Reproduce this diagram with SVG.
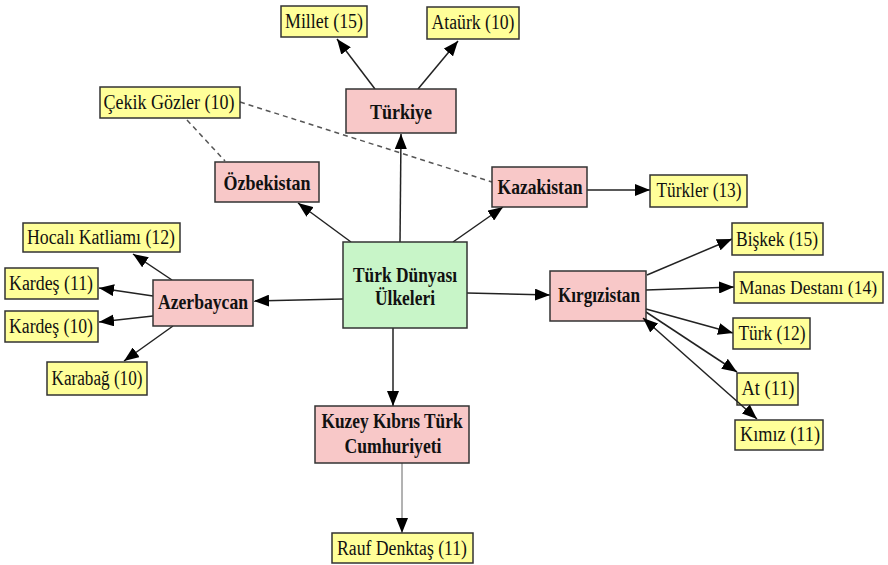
<svg xmlns="http://www.w3.org/2000/svg" width="888" height="565" viewBox="0 0 888 565">
<defs>
<marker id="ah" markerUnits="userSpaceOnUse" markerWidth="16" markerHeight="12" refX="15" refY="6" orient="auto-start-reverse" viewBox="0 0 16 12">
<path d="M0,0 L15,6 L0,12 z" fill="#000"/>
</marker>
<style>
.y{fill:#ffff99;stroke:#333;stroke-width:1.5}
.p{fill:#f8c8c8;stroke:#333;stroke-width:1.5}
.g{fill:#c8f5c8;stroke:#333;stroke-width:1.5}
.t{font-family:"Liberation Serif","Times New Roman",serif;font-size:20px;fill:#111;text-anchor:middle}
.b{font-family:"Liberation Serif","Times New Roman",serif;font-size:21px;font-weight:bold;fill:#111;text-anchor:middle}
.c{stroke:#222;stroke-width:1.5;fill:none;marker-end:url(#ah)}
.d{stroke:#555;stroke-width:1.5;fill:none;stroke-dasharray:5,4}
</style>
</defs>
<rect width="888" height="565" fill="#fff"/>
<g id="connectors">
<line class="c" x1="375" y1="89" x2="337" y2="39"/>
<line class="c" x1="418" y1="89" x2="458" y2="41"/>
<line class="d" x1="187" y1="120" x2="225" y2="161"/>
<line class="d" x1="240" y1="102" x2="492" y2="182"/>
<line class="c" x1="400" y1="242" x2="401" y2="134"/>
<line class="c" x1="351" y1="242" x2="298" y2="203"/>
<line class="c" x1="453" y1="242" x2="503" y2="207"/>
<line class="c" x1="587" y1="190" x2="650" y2="190"/>
<line class="c" x1="467" y1="293" x2="550" y2="295"/>
<line class="c" x1="343" y1="299" x2="254" y2="301"/>
<line class="c" x1="172" y1="280" x2="133" y2="254"/>
<line class="c" x1="153" y1="296" x2="99" y2="288"/>
<line class="c" x1="153" y1="316" x2="99" y2="322"/>
<line class="c" x1="173" y1="326" x2="124" y2="361"/>
<line class="c" x1="647" y1="275" x2="732" y2="239"/>
<line class="c" x1="646" y1="290" x2="734" y2="287"/>
<line class="c" x1="646" y1="309" x2="733" y2="333"/>
<line class="c" x1="646" y1="312" x2="737" y2="372"/>
<line class="c" x1="393" y1="328" x2="393" y2="406"/>
<line x1="402" y1="463" x2="402" y2="533" stroke="#666" stroke-width="1" marker-end="url(#ah)"/>
</g>
<g id="n-turkdunyasi"><rect class="g" x="343" y="242" width="124" height="86"/><text class="b" x="405" y="282" textLength="104" lengthAdjust="spacingAndGlyphs">Türk Dünyası</text><text class="b" x="405" y="305" textLength="60" lengthAdjust="spacingAndGlyphs">Ülkeleri</text></g>
<g id="n-turkiye"><rect class="p" x="346" y="89" width="110" height="44"/><text class="b" x="401" y="119" textLength="62" lengthAdjust="spacingAndGlyphs">Türkiye</text></g>
<g id="n-millet"><rect class="y" x="281" y="6" width="86" height="31"/><text class="t" x="324" y="28" textLength="78" lengthAdjust="spacingAndGlyphs">Millet  (15)</text></g>
<g id="n-ataurk"><rect class="y" x="427" y="7" width="92" height="32"/><text class="t" x="473" y="29" textLength="83" lengthAdjust="spacingAndGlyphs">Ataürk (10)</text></g>
<g id="n-cekik"><rect class="y" x="100" y="87" width="140" height="31"/><text class="t" x="169" y="109" textLength="131" lengthAdjust="spacingAndGlyphs">Çekik Gözler (10)</text></g>
<g id="n-ozbekistan"><rect class="p" x="215" y="162" width="104" height="40"/><text class="b" x="267" y="190" textLength="87" lengthAdjust="spacingAndGlyphs">Özbekistan</text></g>
<g id="n-kazakistan"><rect class="p" x="492" y="167" width="95" height="40"/><text class="b" x="540" y="194" textLength="85" lengthAdjust="spacingAndGlyphs">Kazakistan</text></g>
<g id="n-turkler"><rect class="y" x="650" y="175" width="97" height="32"/><text class="t" x="699" y="197" textLength="85" lengthAdjust="spacingAndGlyphs">Türkler (13)</text></g>
<g id="n-azerbaycan"><rect class="p" x="153" y="280" width="100" height="46"/><text class="b" x="203" y="309" textLength="90" lengthAdjust="spacingAndGlyphs">Azerbaycan</text></g>
<g id="n-hocali"><rect class="y" x="23" y="223" width="157" height="29"/><text class="t" x="101" y="244" textLength="148" lengthAdjust="spacingAndGlyphs">Hocalı Katliamı (12)</text></g>
<g id="n-kardes11"><rect class="y" x="5" y="268" width="93" height="31"/><text class="t" x="51" y="290" textLength="84" lengthAdjust="spacingAndGlyphs">Kardeş (11)</text></g>
<g id="n-kardes10"><rect class="y" x="5" y="311" width="93" height="31"/><text class="t" x="51" y="333" textLength="84" lengthAdjust="spacingAndGlyphs">Kardeş (10)</text></g>
<g id="n-karabag"><rect class="y" x="47" y="362" width="100" height="33"/><text class="t" x="97" y="385" textLength="91" lengthAdjust="spacingAndGlyphs">Karabağ (10)</text></g>
<g id="n-kirgizistan"><rect class="p" x="550" y="271" width="96" height="50"/><text class="b" x="599" y="302" textLength="82" lengthAdjust="spacingAndGlyphs">Kırgızistan</text></g>
<g id="n-biskek"><rect class="y" x="732" y="223" width="91" height="32"/><text class="t" x="777" y="246" textLength="82" lengthAdjust="spacingAndGlyphs">Bişkek (15)</text></g>
<g id="n-manas"><rect class="y" x="734" y="272" width="149" height="31"/><text class="t" x="808" y="294" style="font-size:18px" textLength="138" lengthAdjust="spacingAndGlyphs">Manas Destanı (14)</text></g>
<g id="n-turk12"><rect class="y" x="733" y="318" width="77" height="31"/><text class="t" x="772" y="340" textLength="67" lengthAdjust="spacingAndGlyphs">Türk (12)</text></g>
<g id="n-at"><rect class="y" x="737" y="373" width="61" height="32"/><text class="t" x="768" y="395" textLength="53" lengthAdjust="spacingAndGlyphs">At (11)</text></g>
<g id="n-kimiz"><rect class="y" x="735" y="420" width="88" height="30"/><text class="t" x="780" y="441" textLength="80" lengthAdjust="spacingAndGlyphs">Kımız (11)</text></g>
<g id="connector-kimiz"><line x1="643" y1="318" x2="757" y2="419" stroke="#222" stroke-width="1.5" marker-start="url(#ah)" marker-end="url(#ah)"/></g>
<g id="n-kktc"><rect class="p" x="315" y="406" width="154" height="57"/><text class="b" x="392" y="428" textLength="141" lengthAdjust="spacingAndGlyphs">Kuzey Kıbrıs Türk</text><text class="b" x="393" y="453" textLength="97" lengthAdjust="spacingAndGlyphs">Cumhuriyeti</text></g>
<g id="n-rauf"><rect class="y" x="332" y="533" width="141" height="30"/><text class="t" x="402" y="555" textLength="130" lengthAdjust="spacingAndGlyphs">Rauf Denktaş (11)</text></g>
</svg>
